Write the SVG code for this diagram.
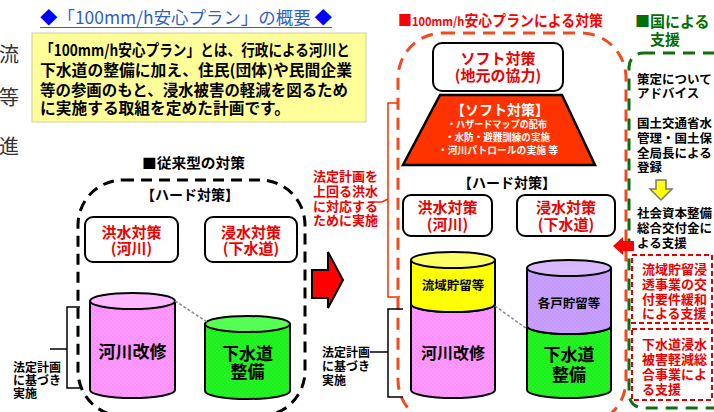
<svg xmlns="http://www.w3.org/2000/svg" width="714" height="412" viewBox="0 0 714 412">
<defs>
<style>
.jp{font-family:"Noto Sans CJK JP","Noto Sans",sans-serif;font-weight:bold}
.jn{font-family:"Noto Sans CJK JP","Noto Sans",sans-serif}
.red{fill:#EE0000}
.blk{fill:#000}
.box{fill:#fff;stroke:#000;stroke-width:2}
.cyl{stroke:#000;stroke-width:2}
.br{fill:none;stroke:#000;stroke-width:1.5}
</style>
<pattern id="pinkDots" width="4" height="4" patternUnits="userSpaceOnUse">
<rect width="4" height="4" fill="#FF99FF"/><circle cx="1" cy="1" r="0.6" fill="#E27AE2"/><circle cx="3" cy="3" r="0.6" fill="#E27AE2"/>
</pattern>
<pattern id="greenDots" width="4" height="4" patternUnits="userSpaceOnUse">
<rect width="4" height="4" fill="#22F522"/><circle cx="1" cy="1" r="0.6" fill="#1AD01A"/><circle cx="3" cy="3" r="0.6" fill="#1AD01A"/>
</pattern>
<pattern id="purpleDots" width="4" height="4" patternUnits="userSpaceOnUse">
<rect width="4" height="4" fill="#C9A0FF"/><circle cx="1" cy="1" r="0.6" fill="#AE85E6"/><circle cx="3" cy="3" r="0.6" fill="#AE85E6"/>
</pattern>
</defs>
<rect width="714" height="412" fill="#fff"/>

<!-- left page fragment characters -->
<g id="page-fragment" font-family="'Liberation Serif','Noto Sans CJK JP',serif" font-size="20" fill="#333">
<text x="-1" y="62">流</text>
<text x="-1" y="105">等</text>
<text x="-1" y="154">進</text>
</g>

<!-- main title -->
<g id="title">
<text x="40" y="24" class="jn" font-size="17" textLength="292" lengthAdjust="spacingAndGlyphs"><tspan fill="#0000FF">◆</tspan><tspan fill="#2F5FC8">「100mm/h安心プラン」の概要 </tspan><tspan fill="#0000FF">◆</tspan></text>
<line x1="40" y1="27.5" x2="332" y2="27.5" stroke="#2F5FC8" stroke-width="1"/>
</g>

<!-- description box -->
<g id="description">
<rect x="32" y="33" width="334" height="89" fill="#FFFF99" stroke="#CFCFA0" stroke-width="1"/>
<g class="jp blk" font-size="15.5">
<text x="40" y="56" textLength="310" lengthAdjust="spacingAndGlyphs">「100mm/h安心プラン」とは、行政による河川と</text>
<text x="40" y="76" textLength="312" lengthAdjust="spacingAndGlyphs">下水道の整備に加え、住民(団体)や民間企業</text>
<text x="40" y="96" textLength="308" lengthAdjust="spacingAndGlyphs">等の参画のもと、浸水被害の軽減を図るため</text>
<text x="40" y="114" textLength="250" lengthAdjust="spacingAndGlyphs">に実施する取組を定めた計画です。</text>
</g>
</g>

<!-- section headings -->
<g id="heading-conventional">
<text x="142" y="168" class="jp blk" font-size="14" textLength="103" lengthAdjust="spacingAndGlyphs">■従来型の対策</text>
</g>
<g id="heading-plan">
<text x="398" y="26" class="jp" fill="#FF0000" font-size="15" textLength="205" lengthAdjust="spacingAndGlyphs">■<tspan font-size="12">100mm/h</tspan>安心プランによる対策</text>
</g>
<g id="heading-national">
<text x="635" y="27" class="jp" fill="#007000" font-size="15">■国による</text>
<text x="650" y="45" class="jp" fill="#007000" font-size="15">支援</text>
</g>

<!-- containers -->
<g id="containers" fill="none" stroke-width="3">
<rect id="conventional-frame" x="78" y="180" width="227" height="236" rx="45" stroke="#000" stroke-dasharray="11 7"/>
<rect id="plan-frame" x="398" y="33" width="228" height="392" rx="45" stroke="#F04A1E" stroke-dasharray="12 8"/>
<rect id="national-frame" x="629" y="53" width="110" height="355" rx="14" stroke="#106E10" stroke-dasharray="12 8"/>
</g>

<!-- conventional: hard measures -->
<g id="hard-left-label">
<text x="190" y="200" text-anchor="middle" class="jp blk" font-size="14">【ハード対策】</text>
</g>
<g id="flood-river-left">
<rect class="box" x="85" y="217" width="93" height="45" rx="8"/>
<text x="131.5" y="238" text-anchor="middle" class="jp red" font-size="15">洪水対策</text>
<text x="131.5" y="254" text-anchor="middle" class="jp red" font-size="15">(河川)</text>
</g>
<g id="inundation-sewer-left">
<rect class="box" x="205" y="217" width="92" height="45" rx="8"/>
<text x="251" y="238" text-anchor="middle" class="jp red" font-size="15">浸水対策</text>
<text x="251" y="254" text-anchor="middle" class="jp red" font-size="15">(下水道)</text>
</g>

<g id="river-improvement-left">
<path class="cyl" fill="url(#pinkDots)" d="M90,301 V390 A42.5,8 0 0 0 175,390 V301 Z"/>
<ellipse class="cyl" cx="132.5" cy="301" rx="42.5" ry="8" fill="#FFB8FF"/>
<text x="132.5" y="358" text-anchor="middle" class="jp blk" font-size="17">河川改修</text>
</g>
<g id="sewer-left">
<path class="cyl" fill="url(#greenDots)" d="M205,324 V391 A42.5,8 0 0 0 290,391 V324 Z"/>
<ellipse class="cyl" cx="247.5" cy="324" rx="42.5" ry="8" fill="#55FF55"/>
<text x="247.5" y="360" text-anchor="middle" class="jp blk" font-size="17">下水道</text>
<text x="247.5" y="378" text-anchor="middle" class="jp blk" font-size="17">整備</text>
</g>

<g id="legal-left">
<text x="13" y="372" class="jp blk" font-size="12">法定計画</text>
<text x="13" y="385" class="jp blk" font-size="12">に基づき</text>
<text x="13" y="398" class="jp blk" font-size="12">実施</text>
</g>

<!-- big arrow -->
<g id="transition-arrow">
<polygon points="312,270 328,270 328,252 343,280 328,308 328,298 312,298" fill="#FF0000" stroke="#000" stroke-width="2" stroke-linejoin="miter"/>
</g>

<g id="exceed-note">
<g class="jp red" font-size="13">
<text x="313" y="181">法定計画を</text>
<text x="313" y="196">上回る洪水</text>
<text x="313" y="211">に対応する</text>
<text x="313" y="225">ために実施</text>
</g>
</g>

<!-- plan: soft -->
<g id="soft-local">
<rect class="box" x="433" y="43" width="130" height="48" rx="9"/>
<text x="498" y="64" text-anchor="middle" class="jp red" font-size="15">ソフト対策</text>
<text x="498" y="81" text-anchor="middle" class="jp red" font-size="15">(地元の協力)</text>
</g>
<g id="soft-measures">
<polygon points="440,95 562,95 595,165 403,165" fill="#FF3300" stroke="#000" stroke-width="2.5"/>
<text x="500" y="115" text-anchor="middle" class="jp" fill="#fff" font-size="14">【ソフト対策】</text>
<text x="447" y="128" class="jp" fill="#fff" font-size="10" textLength="100" lengthAdjust="spacingAndGlyphs">・ハザードマップの配布</text>
<text x="445" y="141" class="jp" fill="#fff" font-size="10" textLength="105" lengthAdjust="spacingAndGlyphs">・水防・避難訓練の実施</text>
<text x="438" y="154" class="jp" fill="#fff" font-size="10" textLength="120" lengthAdjust="spacingAndGlyphs">・河川パトロールの実施 等</text>
</g>

<g id="hard-right-label">
<text x="507" y="188" text-anchor="middle" class="jp blk" font-size="14">【ハード対策】</text>
</g>
<g id="flood-river-right">
<rect class="box" x="403" y="195" width="89" height="41" rx="8"/>
<text x="447.5" y="213" text-anchor="middle" class="jp red" font-size="15">洪水対策</text>
<text x="447.5" y="230" text-anchor="middle" class="jp red" font-size="15">(河川)</text>
</g>
<g id="inundation-sewer-right">
<rect class="box" x="517" y="195" width="98" height="41" rx="8"/>
<text x="566" y="213" text-anchor="middle" class="jp red" font-size="15">浸水対策</text>
<text x="566" y="230" text-anchor="middle" class="jp red" font-size="15">(下水道)</text>
</g>

<g id="river-right">
<path class="cyl" fill="url(#pinkDots)" d="M411,304 A42,8 0 0 0 495,304 V390 A42,8 0 0 1 411,390 Z"/>
<path class="cyl" fill="#FFFF00" d="M411,260 V304 A42,8 0 0 0 495,304 V260 Z"/>
<ellipse class="cyl" cx="453" cy="260" rx="42" ry="8" fill="#FFFF66"/>
<text x="453" y="290" text-anchor="middle" class="jp blk" font-size="12.5">流域貯留等</text>
<text x="453" y="359" text-anchor="middle" class="jp blk" font-size="16">河川改修</text>
</g>
<g id="sewer-right">
<path class="cyl" fill="url(#greenDots)" d="M527,326 A42,8 0 0 0 611,326 V390 A42,8 0 0 1 527,390 Z"/>
<path class="cyl" fill="url(#purpleDots)" d="M527,268 V326 A42,8 0 0 0 611,326 V268 Z"/>
<ellipse class="cyl" cx="569" cy="268" rx="42" ry="8" fill="#D9B8FF"/>
<text x="569" y="308" text-anchor="middle" class="jp blk" font-size="12.5">各戸貯留等</text>
<text x="569" y="361" text-anchor="middle" class="jp blk" font-size="17">下水道</text>
<text x="569" y="381" text-anchor="middle" class="jp blk" font-size="17">整備</text>
</g>

<g id="legal-right">
<text x="322" y="357" class="jp blk" font-size="12">法定計画</text>
<text x="322" y="371" class="jp blk" font-size="12">に基づき</text>
<text x="322" y="385" class="jp blk" font-size="12">実施</text>
</g>

<!-- national support column -->
<g id="advice">
<text x="637" y="84" class="jp blk" font-size="12.5">策定について</text>
<text x="637" y="98" class="jp blk" font-size="12.5">アドバイス</text>
</g>
<g id="registration">
<text x="637" y="128" class="jp blk" font-size="12.5">国土交通省水</text>
<text x="637" y="143" class="jp blk" font-size="12.5">管理・国土保</text>
<text x="637" y="158" class="jp blk" font-size="12.5">全局長による</text>
<text x="637" y="172" class="jp blk" font-size="12.5">登録</text>
</g>
<g id="grant">
<text x="637" y="218" class="jp blk" font-size="12.5">社会資本整備</text>
<text x="637" y="233" class="jp blk" font-size="12.5">総合交付金に</text>
<text x="637" y="248" class="jp blk" font-size="12.5">よる支援</text>
</g>
<g id="storage-support">
<rect x="632" y="255" width="80" height="68" fill="none" stroke="#E00000" stroke-width="2" stroke-dasharray="5 3"/>
<g class="jp red" font-size="13">
<text x="642" y="274">流域貯留浸</text>
<text x="642" y="289">透事業の交</text>
<text x="642" y="304">付要件緩和</text>
<text x="642" y="318">による支援</text>
</g>
</g>
<g id="sewer-support">
<rect x="632" y="329" width="80" height="71" fill="none" stroke="#E00000" stroke-width="2" stroke-dasharray="5 3"/>
<g class="jp red" font-size="13">
<text x="642" y="349">下水道浸水</text>
<text x="642" y="364">被害軽減総</text>
<text x="642" y="379">合事業によ</text>
<text x="642" y="394">る支援</text>
</g>
</g>

<!-- connectors -->
<g id="connectors">
<line x1="175" y1="301" x2="207" y2="322" stroke="#888" stroke-width="1.5" stroke-dasharray="3 2"/>
<line x1="495" y1="306" x2="527" y2="329" stroke="#888" stroke-width="1.5" stroke-dasharray="3 2"/>
<path class="br" d="M80,307 H67 V388 H80 M50,349 H67"/>
<path class="br" d="M403,309 H388 V397 H403 M370,352 H388"/>
<path d="M398,103 H388 V297 H400 M374,202 L382,202 L388,199" fill="none" stroke="#FF2A00" stroke-width="1.5"/>
<path id="yellow-arrow" d="M656,180 H666 V189 H672 L661,200 L650,189 H656 Z" fill="#FFFF00" stroke="#777" stroke-width="1.5"/>
<polygon id="red-left-arrow" points="613,246 623,237 623,241 634,241 634,251 623,251 623,255" fill="#FF0000"/>
</g>
</svg>
